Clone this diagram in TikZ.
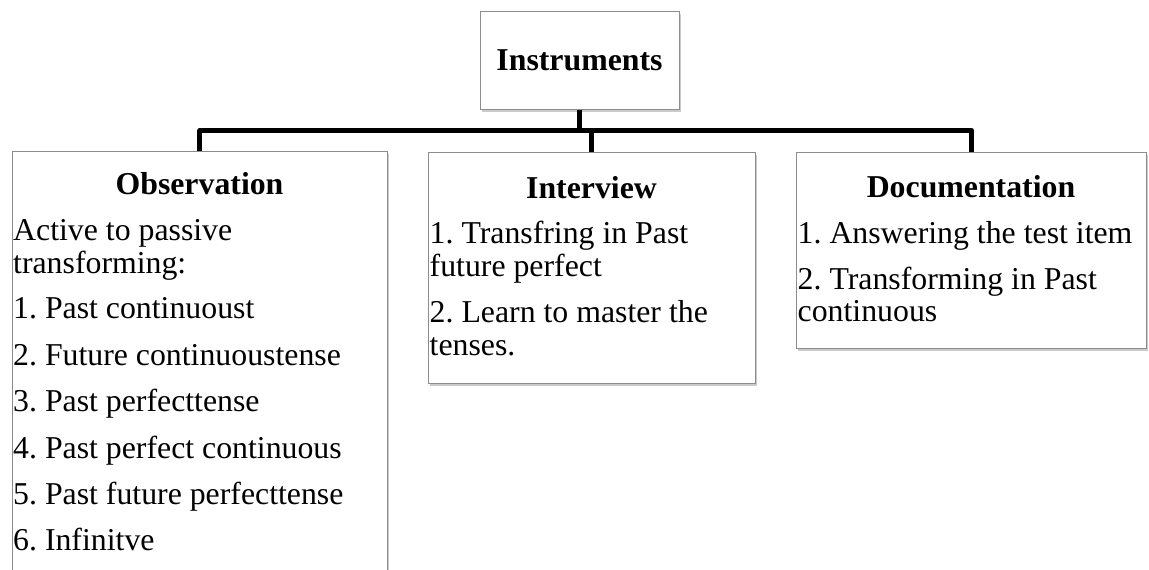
\documentclass[tikz,border=0pt]{standalone}
\usepackage{fontspec}
\setmainfont{Liberation Serif}
\usetikzlibrary{shadows}
\frenchspacing
\begin{document}
\begin{tikzpicture}[x=1pt,y=-1pt,
  box/.style={draw=black!45, line width=0.9pt, fill=white, inner sep=0pt, anchor=north west,
    drop shadow={shadow xshift=2pt, shadow yshift=-3pt, opacity=0.35, fill=black!60}},
  hd/.style={font=\fontsize{31.8}{33}\selectfont\bfseries\frenchspacing, inner sep=0pt, anchor=base},
  txt/.style={font=\fontsize{31.8}{33}\selectfont\frenchspacing, inner sep=0pt, anchor=base west},
  conn/.style={line width=5pt, black, line join=round}]
\useasboundingbox (0,0) rectangle (1149,570);
% boxes
\node[box, minimum width=199pt, minimum height=98pt] (top) at (480,11) {};
\node[box, minimum width=375pt, minimum height=480pt] (obs) at (12,151) {};
\node[box, minimum width=327pt, minimum height=231pt] (int) at (428,152) {};
\node[box, minimum width=350pt, minimum height=196pt] (doc) at (796,152) {};
% connectors
\coordinate (busy) at (0,130.5);
\draw[conn] (top.south) -- (top.south |- busy);
\draw[conn] (obs.north) -- (obs.north |- busy) -- (doc.north |- busy) -- (doc.north);
\draw[conn] (int.north) -- (int.north |- busy);
% texts
\node[hd] (toph) at (579.5,70) {Instruments};
\node[hd] (obsh) at (199.5,194) {Observation};
\node[txt] (o0) at (13,240) {Active to passive};
\node[txt] (o0b) at (13,273) {transforming:};
\node[txt] (o1) at (13,318.5) {1. Past continuoust};
\node[txt] (o2) at (13,365) {2. Future continuoustense};
\node[txt] (o3) at (13,411.5) {3. Past perfecttense};
\node[txt] (o4) at (13,458) {4. Past perfect continuous};
\node[txt] (o5) at (13,504) {5. Past future perfecttense};
\node[txt] (o6) at (13,550.5) {6. Infinitve};
\node[hd] (inth) at (591.5,198) {Interview};
\node[txt] (i1) at (429.5,243) {1. Transfring in Past};
\node[txt] (i1b) at (429.5,276) {future perfect};
\node[txt] (i2) at (429.5,322) {2. Learn to master the};
\node[txt] (i2b) at (429.5,355) {tenses.};
\node[hd] (doch) at (971,197) {Documentation};
\node[txt] (d1) at (797.5,243) {1. Answering the test item};
\node[txt] (d2) at (797.5,289) {2. Transforming in Past};
\node[txt] (d2b) at (797.5,321) {continuous};
\end{tikzpicture}
\end{document}
